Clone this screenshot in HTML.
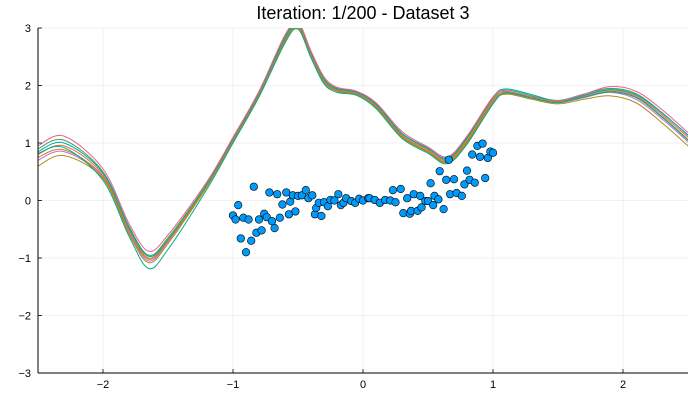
<!DOCTYPE html>
<html><head><meta charset="utf-8"><style>
body{margin:0;background:#fff}
svg{display:block;font-family:"Liberation Sans",sans-serif}
</style></head><body>
<svg id="chart" width="700" height="400">
<defs><clipPath id="clip"><rect x="38" y="28" width="650" height="345"/></clipPath></defs>
<rect width="700" height="400" fill="#fff"/>
<text x="363" y="19" text-anchor="middle" font-size="18" fill="#000">Iteration: 1/200 - Dataset 3</text>
<g id="grid"></g>
<g id="lines" clip-path="url(#clip)"></g>
<g id="points"></g>
<g id="axes"></g>
</svg>
<script>
const xTicks=[-2,-1,0,1,2];
const yTicks=[-3,-2,-1,0,1,2,3];
const curveX=[-2.5,-2.3,-2.0,-1.8,-1.65,-1.5,-1.2,-1.0,-0.8,-0.6,-0.5,-0.4,-0.3,-0.2,-0.05,0.1,0.3,0.5,0.65,0.8,1.0,1.1,1.3,1.5,1.7,1.9,2.1,2.3,2.5];
const series1=[0.80,0.95,0.45,-0.50,-1.00,-0.70,0.27,1.05,1.85,2.80,3.05,2.55,2.10,1.93,1.87,1.66,1.14,0.88,0.70,1.05,1.75,1.89,1.80,1.72,1.82,1.92,1.82,1.49,1.10];
const series2=[0.90,1.05,0.50,-0.45,-0.95,-0.65,0.30,1.08,1.88,2.85,3.08,2.58,2.12,1.95,1.89,1.68,1.17,0.91,0.72,1.08,1.78,1.92,1.82,1.74,1.85,1.95,1.86,1.53,1.13];
const series3=[0.70,0.85,0.40,-0.55,-1.05,-0.72,0.25,1.03,1.83,2.78,3.02,2.52,2.07,1.91,1.85,1.63,1.11,0.85,0.67,1.02,1.72,1.86,1.78,1.70,1.79,1.88,1.76,1.42,1.02];
const series4=[0.60,0.78,0.38,-0.58,-1.08,-0.75,0.24,1.02,1.82,2.76,3.00,2.50,2.05,1.90,1.84,1.62,1.10,0.84,0.66,1.00,1.70,1.85,1.76,1.68,1.76,1.82,1.70,1.35,0.95];
const series5=[0.85,1.00,0.48,-0.47,-0.97,-0.68,0.28,1.06,1.86,2.82,3.06,2.56,2.11,1.94,1.88,1.67,1.16,0.90,0.74,1.10,1.80,1.94,1.84,1.73,1.83,1.93,1.84,1.52,1.14];
const series6=[0.95,1.12,0.55,-0.40,-0.88,-0.60,0.33,1.10,1.90,2.88,3.10,2.60,2.15,1.97,1.90,1.70,1.20,0.93,0.76,1.12,1.80,1.90,1.80,1.73,1.85,1.98,1.90,1.58,1.18];
const series7=[0.75,0.88,0.42,-0.52,-1.02,-0.70,0.26,1.04,1.84,2.79,3.03,2.53,2.08,1.92,1.86,1.64,1.12,0.86,0.68,1.03,1.74,1.88,1.79,1.71,1.80,1.90,1.80,1.46,1.06];
const series8=[0.82,0.92,0.35,-0.62,-1.18,-0.85,0.20,1.00,1.80,2.74,2.98,2.48,2.03,1.88,1.83,1.60,1.08,0.82,0.64,0.98,1.68,1.87,1.78,1.70,1.80,1.89,1.79,1.45,1.05];
const seriesValues=[series1,series2,series3,series4,series5,series6,series7,series8];
const seriesColors=["#e26f46","#3da44d","#c271d2","#ac8d18","#00a9ad","#ed5e93","#c68225","#00a98d"];
const pointX=[-0.84,-0.96,-1.00,-0.98,-0.92,-0.88,-0.94,-0.90,-0.86,-0.82,-0.78,-0.80,-0.76,-0.74,-0.70,-0.68,-0.64,-0.57,-0.52,-0.72,-0.66,-0.59,-0.62,-0.56,-0.54,-0.50,-0.47,-0.44,-0.42,-0.39,-0.37,-0.32,-0.36,-0.34,-0.30,-0.27,-0.25,-0.22,-0.19,-0.17,-0.15,-0.13,-0.09,-0.06,-0.03,0.00,0.04,0.05,0.09,0.13,0.17,0.21,0.25,0.23,0.29,0.34,0.31,0.36,0.37,0.42,0.45,0.39,0.44,0.48,0.50,0.54,0.55,0.58,0.62,0.52,0.59,0.64,0.66,0.70,0.67,0.72,0.76,0.80,0.78,0.82,0.86,0.94,0.84,0.90,0.96,0.88,0.92,0.98,1.00];
const pointY=[0.24,-0.08,-0.26,-0.33,-0.30,-0.33,-0.66,-0.90,-0.70,-0.56,-0.52,-0.33,-0.23,-0.29,-0.36,-0.48,-0.30,-0.24,-0.19,0.14,0.11,0.14,-0.07,-0.02,0.09,0.08,0.09,0.18,0.04,0.09,-0.24,-0.27,-0.13,-0.04,-0.03,-0.10,0.01,0.00,0.11,-0.08,-0.04,0.04,-0.01,-0.04,0.03,0.00,0.04,0.04,0.01,-0.04,0.01,0.00,-0.03,0.18,0.20,0.04,-0.22,-0.23,-0.18,-0.18,-0.12,0.11,0.08,-0.01,-0.01,-0.08,0.08,0.02,-0.15,0.30,0.51,0.36,0.71,0.37,0.11,0.13,0.08,0.52,0.28,0.36,0.31,0.39,0.80,0.76,0.74,0.95,0.99,0.85,0.83];

const L=38,R=688,T=28,B=373;
const sx=v=>L+(v+2.5)/5*(R-L);
const sy=v=>B-(v+3)/6*(B-T);
const NS="http://www.w3.org/2000/svg";
function mk(tag,attrs,parent){const e=document.createElementNS(NS,tag);for(const k in attrs)e.setAttribute(k,attrs[k]);parent.appendChild(e);return e;}
const grid=document.getElementById('grid'),axes=document.getElementById('axes');
xTicks.forEach(t=>{
  const g=mk('line',{x1:sx(t),x2:sx(t),y1:T,y2:B,stroke:'#000','stroke-opacity':0.1,'stroke-width':0.5},grid);
  
  
  const tk=mk('line',{x1:sx(t),x2:sx(t),y1:B,y2:B-4,stroke:'#000','stroke-width':0.8},axes);
  
  
  const lb=mk('text',{x:sx(t),y:B+15,'text-anchor':'middle','font-size':11,fill:'#000'},axes);
  lb.textContent=(t<0?'\u2212'+(-t):t);
  
  
});
yTicks.forEach(t=>{
  const g=mk('line',{x1:L,x2:R,y1:sy(t),y2:sy(t),stroke:'#000','stroke-opacity':0.1,'stroke-width':0.5},grid);
  
  
  const tk=mk('line',{x1:L,x2:L+4,y1:sy(t),y2:sy(t),stroke:'#000','stroke-width':0.8},axes);
  
  
  const lb=mk('text',{x:L-7,y:sy(t)+4,'text-anchor':'end','font-size':11,fill:'#000'},axes);
  lb.textContent=(t<0?'\u2212'+(-t):t);
  
  
});
const ax1=mk('line',{x1:L,x2:L,y1:T,y2:B,stroke:'#000','stroke-width':1},axes);


const ax2=mk('line',{x1:L,x2:R,y1:B,y2:B,stroke:'#000','stroke-width':1},axes);



function smoothPath(xs,ys){
  const p=xs.map((x,i)=>[sx(x),sy(ys[i])]);
  let d='M'+p[0][0]+','+p[0][1];
  for(let i=0;i<p.length-1;i++){
    const p0=p[i-1]||p[i],p1=p[i],p2=p[i+1],p3=p[i+2]||p2;
    const c1=[p1[0]+(p2[0]-p0[0])/6,p1[1]+(p2[1]-p0[1])/6];
    const c2=[p2[0]-(p3[0]-p1[0])/6,p2[1]-(p3[1]-p1[1])/6];
    d+=' C'+c1[0]+','+c1[1]+' '+c2[0]+','+c2[1]+' '+p2[0]+','+p2[1];
  }
  return d;
}
const lines=document.getElementById('lines');
seriesValues.forEach((vals,i)=>{
  const pth=mk('path',{d:smoothPath(curveX,vals),fill:'none',stroke:seriesColors[i],'stroke-width':1},lines);
  
  
});
const pts=document.getElementById('points');
pointX.forEach((x,i)=>{
  const c=mk('circle',{cx:sx(x),cy:sy(pointY[i]),r:3.8,fill:'#009afa',stroke:'#000','stroke-width':0.6},pts);
  
  
});
</script>
</body></html>
